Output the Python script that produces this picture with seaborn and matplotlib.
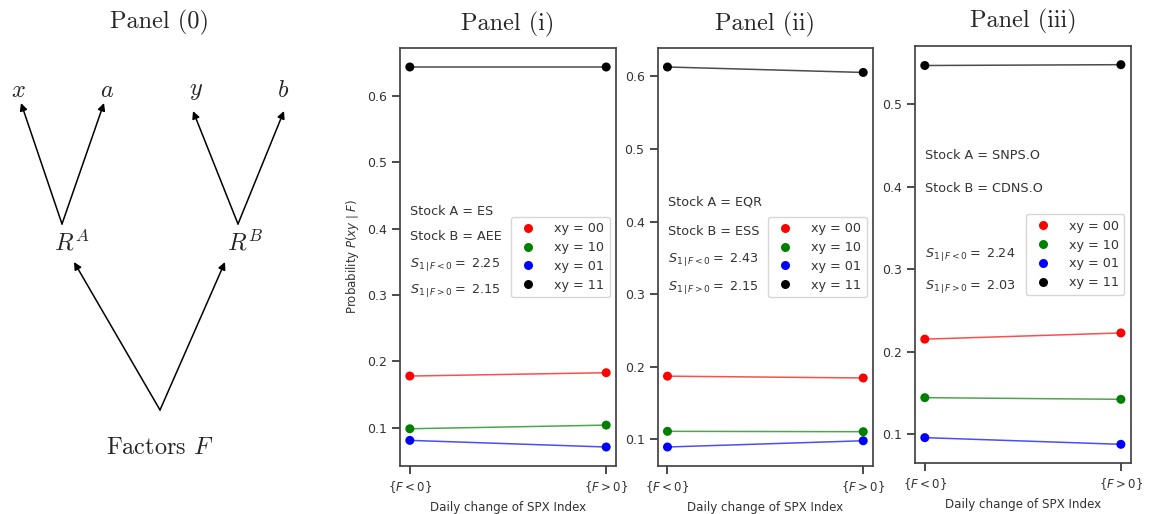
import pandas as pd
import seaborn as sns
import matplotlib.pyplot as plt

# Conditions on the x axis and probabilities
conditions = [r'$\{F<0\}$', r'$\{F>0\}$']
xy_labels = ['xy = 00', 'xy = 10', 'xy = 01', 'xy = 11']
xy_colors = ['red', 'green', 'blue', 'black']

panel_i = {
    'xy = 00': [0.178, 0.183],
    'xy = 10': [0.0985, 0.104],
    'xy = 01': [0.081, 0.071],
    'xy = 11': [0.644, 0.644],
}
panel_ii = {
    'xy = 00': [0.187, 0.1845],
    'xy = 10': [0.111, 0.1105],
    'xy = 01': [0.0894, 0.098],
    'xy = 11': [0.613, 0.6055],
}
panel_iii = {
    'xy = 00': [0.215, 0.2225],
    'xy = 10': [0.144, 0.142],
    'xy = 01': [0.0955, 0.0874],
    'xy = 11': [0.547, 0.548],
}

titles = ['Panel (i)', 'Panel (ii)', 'Panel (iii)']
stock_a = ['ES', 'EQR', 'SNPS.O']
stock_b = ['AEE', 'ESS', 'CDNS.O']
s_neg = ['2.25', '2.43', '2.24']
s_pos = ['2.15', '2.15', '2.03']

sns.set_theme(style='ticks')
plt.rcParams['font.family'] = ['DejaVu Sans']

fig = plt.figure(figsize=(11.54, 5.14), dpi=100)

# ---- Panel (0): the factor diagram, drawn in pixel-like coordinates
diag = fig.add_axes([0, 0, 340 / 1154, 1])
diag.set_xlim(0, 340)
diag.set_ylim(514, 0)
diag.axis('off')

nodes = {
    'x': (18, 90, r'$x$'), 'a': (107, 90, r'$a$'),
    'y': (196, 90, r'$y$'), 'b': (283, 90, r'$b$'),
    'RA': (72, 243, r'$R^A$'), 'RB': (245, 243, r'$R^B$'),
}
for key, (nx, ny, lab) in nodes.items():
    diag.text(nx, ny, lab, ha='center', va='center', fontsize=17.5,
              math_fontfamily='cm')
diag.text(160, 448, r'Factors $F$', ha='center', va='center', fontsize=17.5,
          family='cmr10', math_fontfamily='cm')
diag.text(160, 22, 'Panel (0)', ha='center', va='center', fontsize=17.5,
          family='cmr10')

arrows = [
    ((62, 224), (21, 103)), ((62, 224), (104, 103)),
    ((238, 224), (193, 111)), ((238, 224), (284, 111)),
    ((160, 410), (74, 262)), ((160, 410), (225, 262)),
]
for tail, head in arrows:
    diag.annotate('', xy=head, xytext=tail,
                  arrowprops=dict(arrowstyle='-|>', color='black', lw=1.1,
                                  mutation_scale=11, shrinkA=0, shrinkB=0))

# ---- Panels (i)-(iii)
positions = [
    [400 / 1154, 48 / 514, 216 / 1154, 418 / 514],
    [657.7 / 1154, 48 / 514, 215.3 / 1154, 418 / 514],
    [915 / 1154, 50.7 / 514, 215.7 / 1154, 417.6 / 514],
]
text_rows = [
    [0.61, 0.548, 0.483, 0.421],
    [0.632, 0.56, 0.495, 0.4275],
    [0.737, 0.657, 0.499, 0.4245],
]
palette = dict(zip(xy_labels, xy_colors))

for k, data in enumerate([panel_i, panel_ii, panel_iii]):
    rows = []
    for lab in xy_labels:
        for c, v in zip(conditions, data[lab]):
            rows.append({'condition': c, 'xy': lab, 'prob': v})
    df = pd.DataFrame(rows)

    ax = fig.add_axes(positions[k])
    sns.lineplot(data=df, x='condition', y='prob', hue='xy', palette=palette,
                 hue_order=xy_labels, alpha=0.7, lw=1.1, legend=False, ax=ax)
    sns.scatterplot(data=df, x='condition', y='prob', hue='xy', palette=palette,
                    hue_order=xy_labels, s=42, linewidth=0, ax=ax)
    ax.margins(x=0.05, y=0.05)

    for sp in ax.spines.values():
        sp.set_visible(True)
        sp.set_color('#444444')
    ax.tick_params(axis='y', labelsize=9, colors='#333333')
    ax.tick_params(axis='x', labelsize=8.5, colors='#333333')
    ax.set_xlabel('Daily change of SPX Index', fontsize=8.6, color='#333333')
    if k == 0:
        ax.set_ylabel(r'Probability $P(xy\mid F)$', fontsize=8.5, color='#333333')
    else:
        ax.set_ylabel('')
    ax.set_title(titles[k], fontsize=17.5, family='cmr10', pad=13)

    ty = text_rows[k]
    kw = dict(transform=ax.transAxes, fontsize=9.2, va='center', ha='left',
              color='#333333')
    ax.text(0.046, ty[0], f'Stock A = {stock_a[k]}', **kw)
    ax.text(0.046, ty[1], f'Stock B = {stock_b[k]}', **kw)
    ax.text(0.046, ty[2], r'$S_{1\,|\,F<0} = $ ' + s_neg[k], **kw)
    ax.text(0.046, ty[3], r'$S_{1\,|\,F>0} = $ ' + s_pos[k], **kw)

    leg = ax.legend(loc='center right', fontsize=9.2, title=None,
                    handletextpad=1.1, borderpad=0.45, labelspacing=0.45,
                    handlelength=1.8)
    for t in leg.get_texts():
        t.set_color('#333333')

fig.savefig('out.png', dpi=100)
